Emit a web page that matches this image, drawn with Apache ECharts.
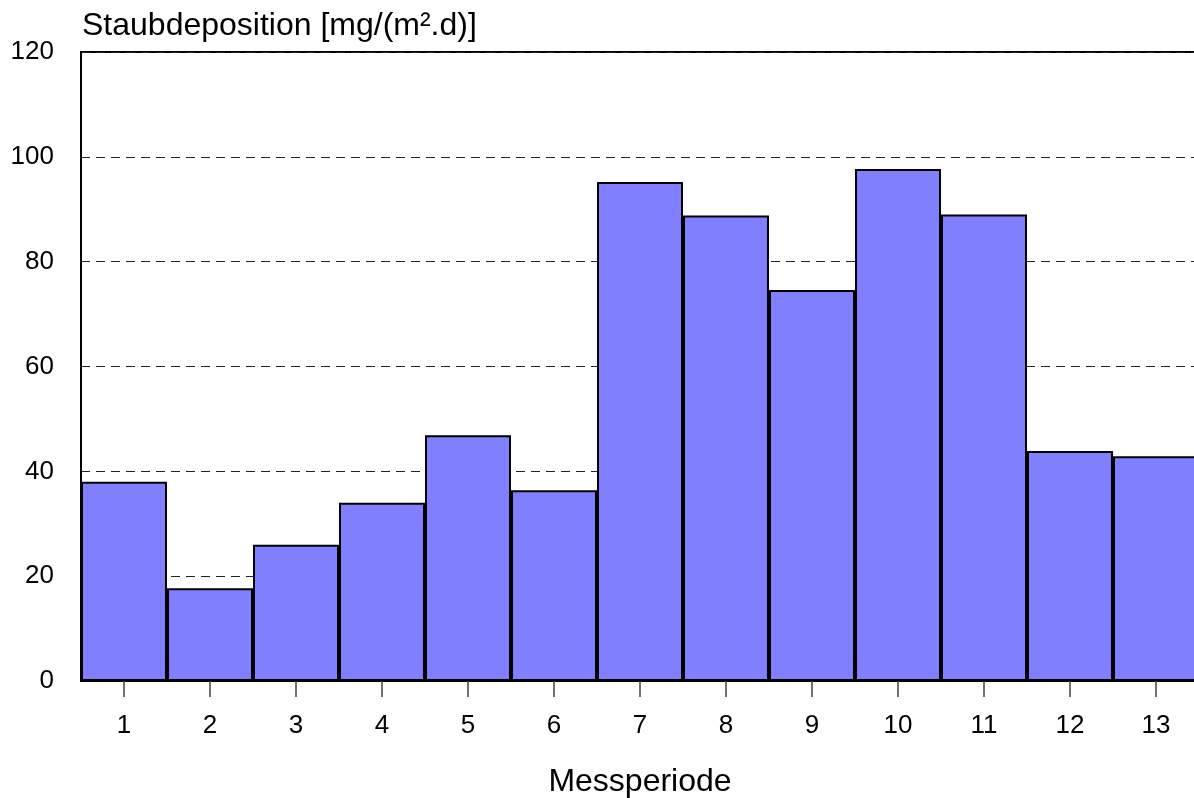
<!DOCTYPE html>
<html>
<head>
<meta charset="utf-8">
<script src="https://cdn.jsdelivr.net/npm/echarts@6/dist/echarts.min.js"></script>
<style>
  html, body { margin: 0; padding: 0; background: #fff; }
  #main { width: 1194px; height: 798px; }
</style>
</head>
<body>
<div id="main"></div>
<script>
// Messperioden and Staubdeposition values
const periods = ['1', '2', '3', '4', '5', '6', '7', '8', '9', '10', '11', '12', '13'];
const deposition = [38.0, 17.7, 26.0, 34.0, 46.9, 36.4, 95.2, 88.8, 74.6, 97.7, 89.0, 43.9, 42.9];
const yTicks = [0, 20, 40, 60, 80, 100, 120];

const font = 'Liberation Sans, Arial, Helvetica, sans-serif';
const myChart = echarts.init(document.getElementById('main'));

const option = {
  animation: false,
  title: {
    text: 'Staubdeposition [mg/(m².d)]',
    left: 82,
    top: 10,
    padding: 0,
    textStyle: { fontFamily: font, fontSize: 32, fontWeight: 'normal', color: '#000' }
  },
  grid: {
    left: 81,
    top: 52,
    width: 1118, // last bar runs a bit past the right edge, like the original
    bottom: 117,
    containLabel: false,
    outerBoundsMode: 'none',
    show: true,
    borderColor: '#000',
    borderWidth: 2
  },
  xAxis: {
    type: 'category',
    data: periods,
    name: 'Messperiode',
    nameLocation: 'middle',
    nameGap: 85,
    nameTextStyle: { fontFamily: font, fontSize: 32, color: '#000', verticalAlign: 'top' },
    axisLine: { lineStyle: { color: '#000', width: 2 } },
    axisTick: { show: true, interval: 0, alignWithLabel: true, length: 16, lineStyle: { color: '#444', width: 1.5 } },
    axisLabel: { interval: 0, margin: 32, fontFamily: font, fontSize: 26, color: '#000', verticalAlign: 'top' }
  },
  yAxis: {
    type: 'value',
    min: yTicks[0],
    max: yTicks[yTicks.length - 1],
    interval: 20,
    axisLine: { show: true, lineStyle: { color: '#000', width: 2 } },
    axisTick: { show: false },
    axisLabel: { margin: 27, fontFamily: font, fontSize: 26, color: '#000' },
    splitLine: { show: true, lineStyle: { color: '#222', width: 1, type: [9, 6] } }
  },
  series: [
    {
      type: 'bar',
      data: deposition,
      barCategoryGap: 0,
      itemStyle: { color: '#8080ff', borderColor: '#000', borderWidth: 2 }
    }
  ]
};

myChart.setOption(option);
</script>
</body>
</html>
